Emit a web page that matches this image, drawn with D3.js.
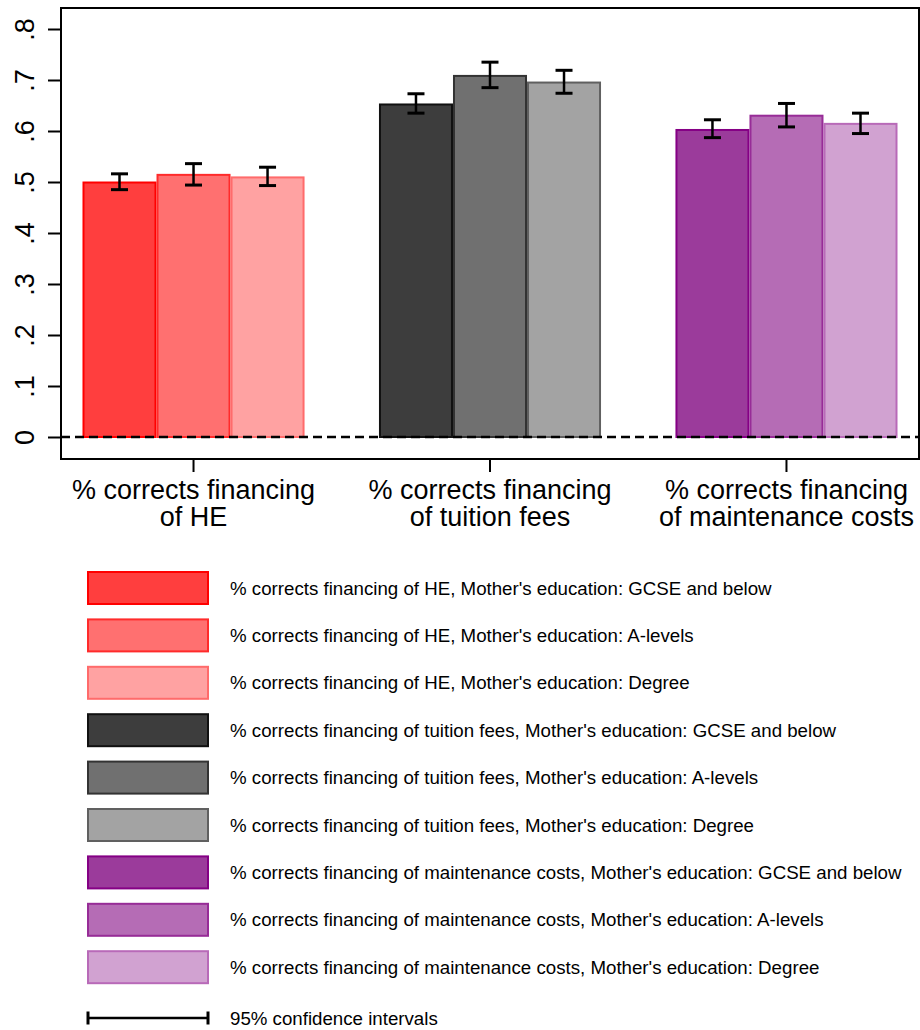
<!DOCTYPE html>
<html>
<head>
<meta charset="utf-8">
<script src="https://cdn.jsdelivr.net/npm/d3@7/dist/d3.min.js"></script>
<style>
  html, body { margin: 0; padding: 0; background: #fff; }
  svg { display: block; font-family: "Liberation Sans", Arial, sans-serif; }
</style>
</head>
<body>
<div id="chart"></div>
<script>
// Outcome categories and the axis labels drawn under each group
const categories = [
  "% corrects financing of HE",
  "% corrects financing of tuition fees",
  "% corrects financing of maintenance costs"
];
const categoryLines = [
  ["% corrects financing", "of HE"],
  ["% corrects financing", "of tuition fees"],
  ["% corrects financing", "of maintenance costs"]
];
const educationLevels = ["GCSE and below", "A-levels", "Degree"];

// Shares by mother's education (one row per category)
const heValues          = [0.499, 0.514, 0.509];
const tuitionValues     = [0.652, 0.708, 0.695];
const maintenanceValues = [0.602, 0.630, 0.614];

// 95% confidence interval bounds
const heLow           = [0.485, 0.494, 0.493];
const heHigh          = [0.516, 0.536, 0.529];
const tuitionLow      = [0.635, 0.685, 0.674];
const tuitionHigh     = [0.673, 0.735, 0.719];
const maintenanceLow  = [0.587, 0.608, 0.595];
const maintenanceHigh = [0.622, 0.654, 0.635];

const yTicks = [0, 0.1, 0.2, 0.3, 0.4, 0.5, 0.6, 0.7, 0.8];
const yTickLabels = ["0", ".1", ".2", ".3", ".4", ".5", ".6", ".7", ".8"];

// Fill / outline colours per category, by education level
const fills = [
  ["#ff3e3e", "#ff7070", "#ffa2a2"],
  ["#3d3d3d", "#707070", "#a3a3a3"],
  ["#9b3b9b", "#b56cb5", "#d1a2d1"]
];
const strokes = [
  ["#ff0000", "#ff2b2b", "#ff6b6b"],
  ["#111111", "#333333", "#606060"],
  ["#850085", "#972c97", "#b86ab8"]
];

const values = [heValues, tuitionValues, maintenanceValues];
const lows = [heLow, tuitionLow, maintenanceLow];
const highs = [heHigh, tuitionHigh, maintenanceHigh];

const bars = [];
categories.forEach((c, ci) => {
  educationLevels.forEach((e, ei) => {
    bars.push({ cat: c, ci, edu: e, ei, v: values[ci][ei], lo: lows[ci][ei], hi: highs[ci][ei] });
  });
});

const W = 920, H = 1030;
const frame = { left: 61, right: 919, top: 8, bottom: 459 };

const svg = d3.select("#chart").append("svg")
  .attr("width", W).attr("height", H);
svg.append("rect").attr("width", W).attr("height", H).attr("fill", "#fff");

const x0 = d3.scaleBand()
  .domain(categories)
  .range([frame.left, frame.right])
  .paddingInner(0.251)
  .paddingOuter(0.0725);
const x1 = d3.scaleBand()
  .domain(educationLevels)
  .range([0, x0.bandwidth()])
  .padding(0);
const y = d3.scaleLinear().domain([0, 0.8]).range([437, 29]);

// Bars
const plot = svg.append("g");
plot.selectAll("rect.bar").data(bars).join("rect")
  .attr("class", "bar")
  .attr("x", d => x0(d.cat) + x1(d.edu) + 1)
  .attr("y", d => y(d.v))
  .attr("width", x1.bandwidth() - 2)
  .attr("height", d => y(0) - y(d.v))
  .attr("fill", d => fills[d.ci][d.ei])
  .attr("stroke", d => strokes[d.ci][d.ei])
  .attr("stroke-width", 2);

// Zero reference line
svg.append("line")
  .attr("x1", frame.left).attr("x2", frame.right)
  .attr("y1", y(0)).attr("y2", y(0))
  .attr("stroke", "#000").attr("stroke-width", 2.5)
  .attr("stroke-dasharray", "9,5");

// Confidence intervals
const ci = svg.append("g").attr("stroke", "#000");
const cx = d => x0(d.cat) + x1(d.edu) + x1.bandwidth() / 2;
ci.selectAll("line.v").data(bars).join("line")
  .attr("x1", cx).attr("x2", cx)
  .attr("y1", d => y(d.lo)).attr("y2", d => y(d.hi))
  .attr("stroke-width", 2.5);
ci.selectAll("line.capHi").data(bars).join("line")
  .attr("x1", d => cx(d) - 8.5).attr("x2", d => cx(d) + 8.5)
  .attr("y1", d => y(d.hi)).attr("y2", d => y(d.hi))
  .attr("stroke-width", 3);
ci.selectAll("line.capLo").data(bars).join("line")
  .attr("x1", d => cx(d) - 8.5).attr("x2", d => cx(d) + 8.5)
  .attr("y1", d => y(d.lo)).attr("y2", d => y(d.lo))
  .attr("stroke-width", 3);

// Plot frame
svg.append("rect")
  .attr("x", frame.left).attr("y", frame.top)
  .attr("width", frame.right - frame.left)
  .attr("height", frame.bottom - frame.top)
  .attr("fill", "none").attr("stroke", "#000").attr("stroke-width", 2);

// Y axis: ticks and rotated labels
const yAxis = d3.axisLeft(y).tickValues(yTicks).tickSize(13)
  .tickFormat((d, i) => yTickLabels[i]);
const yg = svg.append("g").attr("transform", `translate(${frame.left},0)`).call(yAxis);
yg.select(".domain").remove();
yg.selectAll(".tick line").attr("stroke", "#000").attr("stroke-width", 2);
yg.selectAll(".tick text")
  .attr("x", null).attr("dy", null)
  .attr("transform", "translate(-27,0) rotate(-90)")
  .attr("text-anchor", "middle")
  .attr("font-size", 27)
  .attr("font-family", "Liberation Sans, Arial, sans-serif")
  .attr("fill", "#000");

// X axis: ticks at group centres, two-line labels
const xAxis = d3.axisBottom(x0).tickSize(13).tickFormat("");
const xg = svg.append("g").attr("transform", `translate(0,${frame.bottom})`).call(xAxis);
xg.select(".domain").remove();
xg.selectAll(".tick line").attr("stroke", "#000").attr("stroke-width", 2);
categories.forEach((c, i) => {
  categoryLines[i].forEach((line, li) => {
    svg.append("text")
      .attr("x", x0(c) + x0.bandwidth() / 2)
      .attr("y", 499 + li * 26.5)
      .attr("text-anchor", "middle")
      .attr("font-size", 27)
      .attr("fill", "#000")
      .text(line);
  });
});

// Legend
const legend = svg.append("g");
const rowStep = 47.4;
const rowY = i => 588 + i * rowStep;
legend.selectAll("rect").data(bars).join("rect")
  .attr("x", 88).attr("width", 120)
  .attr("y", (d, i) => rowY(i) - 16).attr("height", 32)
  .attr("fill", d => fills[d.ci][d.ei])
  .attr("stroke", d => strokes[d.ci][d.ei])
  .attr("stroke-width", 2);
legend.selectAll("text").data(bars).join("text")
  .attr("x", 230)
  .attr("y", (d, i) => rowY(i) + 6.5)
  .attr("font-size", 18.7)
  .attr("fill", "#000")
  .text(d => `${d.cat}, Mother's education: ${d.edu}`);

// Confidence interval key
const ciY = 1018;
const key = svg.append("g").attr("stroke", "#000");
key.append("line").attr("x1", 88).attr("x2", 208).attr("y1", ciY).attr("y2", ciY).attr("stroke-width", 2.5);
key.append("line").attr("x1", 88).attr("x2", 88).attr("y1", ciY - 6.5).attr("y2", ciY + 6.5).attr("stroke-width", 3);
key.append("line").attr("x1", 208).attr("x2", 208).attr("y1", ciY - 6.5).attr("y2", ciY + 6.5).attr("stroke-width", 3);
svg.append("text").attr("x", 230).attr("y", ciY + 7)
  .attr("font-size", 18.7).attr("fill", "#000")
  .text("95% confidence intervals");
</script>
</body>
</html>
